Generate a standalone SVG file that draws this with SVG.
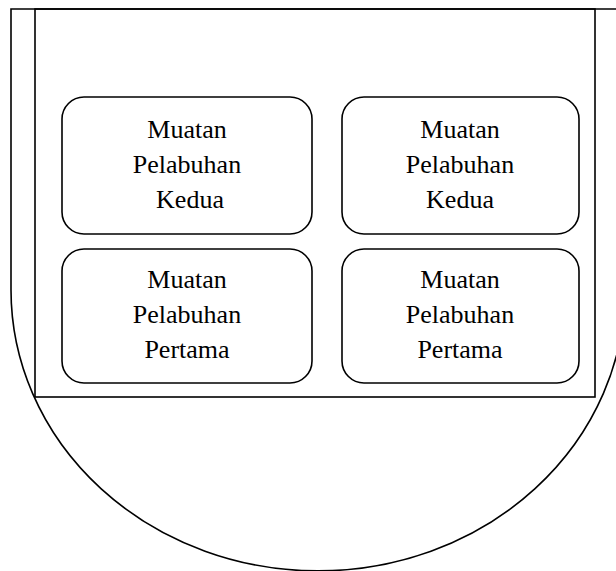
<svg xmlns="http://www.w3.org/2000/svg" width="616" height="571" viewBox="0 0 616 571">
<style>
.ln{fill:none;stroke:#000;stroke-width:1.6}
.bx{fill:#fff;stroke:#000;stroke-width:1.6}
.t{font-family:"Liberation Serif","Times New Roman",serif;font-size:26px;fill:#000;text-anchor:middle}
</style>
<rect width="616" height="571" fill="#fff"/>
<g id="hull">
<path class="ln" d="M11 9 H625 V290 A307 281 0 0 1 11 290 Z"/>
</g>
<g id="hold">
<rect class="ln" x="35" y="9" width="560" height="388"/>
</g>
<g id="box-tl">
<rect class="bx" x="62" y="97" width="250" height="137" rx="22"/>
<text class="t" x="187" y="138">Muatan</text>
<text class="t" x="187" y="173">Pelabuhan</text>
<text class="t" x="190" y="208">Kedua</text>
</g>
<g id="box-tr">
<rect class="bx" x="342" y="97" width="237" height="137" rx="22"/>
<text class="t" x="460" y="138">Muatan</text>
<text class="t" x="460" y="173">Pelabuhan</text>
<text class="t" x="460" y="208">Kedua</text>
</g>
<g id="box-bl">
<rect class="bx" x="62" y="249" width="250" height="134" rx="22"/>
<text class="t" x="187" y="288">Muatan</text>
<text class="t" x="187" y="323">Pelabuhan</text>
<text class="t" x="187" y="358">Pertama</text>
</g>
<g id="box-br">
<rect class="bx" x="342" y="249" width="237" height="134" rx="22"/>
<text class="t" x="460" y="288">Muatan</text>
<text class="t" x="460" y="323">Pelabuhan</text>
<text class="t" x="460" y="358">Pertama</text>
</g>
<g id="connectors"></g>
</svg>
